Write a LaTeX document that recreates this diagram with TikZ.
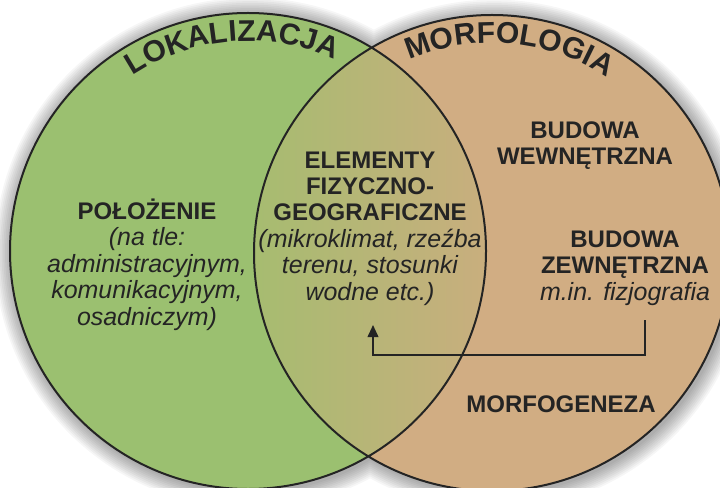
\documentclass[tikz,border=0pt]{standalone}
\usepackage{fontspec}
\setmainfont{Liberation Sans}
\usepackage{tikz}
\usepackage{xcolor}
\usetikzlibrary{arrows.meta, decorations.text}
\definecolor{lokgreen}{RGB}{155, 192, 112}
\definecolor{morftan}{RGB}{209, 173, 131}
\definecolor{lensl}{RGB}{166, 188, 112}
\definecolor{lensr}{RGB}{201, 174, 126}
\definecolor{ink}{RGB}{36, 36, 36}
\newcommand{\expl}[1]{{\fontsize{18.7}{19.8}\selectfont\itshape #1}}

\begin{document}
\begin{tikzpicture}[x=0.75pt, y=-0.75pt,
  rim/.style={draw=ink, line width=1.5pt},
  bodytext/.style={text=ink, align=center, anchor=base, inner sep=0pt,
    font=\fontsize{18}{19.8}\selectfont},
  arctitle/.style={decorate, decoration={text along path, text align=center,
    text color=ink, text={|\fontsize{22.5}{27}\selectfont\bfseries|#1}}}]
  \useasboundingbox (0,0) rectangle (720,488);
  \clip (0,0) rectangle (720,488);
  \fill[white] (0,0) rectangle (720,488);
  \coordinate (cl) at (248,251);
  \coordinate (cr) at (492,253);
  % Halo
  \foreach \k in {1,...,10} {
    \fill[black, opacity=0.035] ([shift={(1.5pt,-1.5pt)}]cl) circle[radius=178.5pt+\k*1.3pt]
      ([shift={(1.5pt,-1.5pt)}]cr) circle[radius=178.5pt+\k*1.3pt];
  }
  % Circles
  \fill[lokgreen] (cl) circle[radius=178.5pt];
  \fill[morftan] (cr) circle[radius=178.5pt];
  \begin{scope}
    \clip (cl) circle[radius=178.5pt];
    \clip (cr) circle[radius=178.5pt];
    \shade[left color=lensl, right color=lensr] (253,0) rectangle (488,488);
  \end{scope}
  \draw[rim] (cl) circle[radius=178.5pt] (cr) circle[radius=178.5pt];
  % Titles
  \path[arctitle=LOKALIZACJA] ([shift={(134.5:157.5pt)}]cl)
    arc[start angle=134.5, end angle=54.5, radius=157.5pt];
  \path[arctitle=MORFOLOGIA] ([shift={(125:157.5pt)}]cr)
    arc[start angle=125, end angle=45, radius=157.5pt];
  % Texts (anchored at the last line)
  \node[bodytext] (polozenie) at (147,325) {\textbf{POŁOŻENIE}\\
    \expl{(na tle:}\\ \expl{administracyjnym,}\\
    \expl{komunikacyjnym,}\\ \expl{osadniczym)}};
  \node[bodytext] (elementy) at (370,300) {\textbf{ELEMENTY}\\
    \textbf{FIZYCZNO-}\\ \textbf{GEOGRAFICZNE}\\
    \expl{(mikroklimat, rzeźba}\\ \expl{terenu, stosunki}\\
    \expl{wodne etc.)}};
  \node[bodytext] (wewn) at (585,165) {\textbf{BUDOWA}\\ \textbf{WEWNĘTRZNA}};
  \node[bodytext] (zewn) at (625,300) {\textbf{BUDOWA}\\ \textbf{ZEWNĘTRZNA}\\
    \expl{m.in. fizjografia}};
  \node[bodytext] (morfogeneza) at (561,412) {\textbf{MORFOGENEZA}};
  % Arrow
  \coordinate (arrS) at (645,320);
  \coordinate (arrE) at (373,325);
  \draw[ink, line width=1.3pt, -{Triangle[length=9pt, width=8pt]}]
    (arrS) -- ++(0,35) -| (arrE);
\end{tikzpicture}
\end{document}
